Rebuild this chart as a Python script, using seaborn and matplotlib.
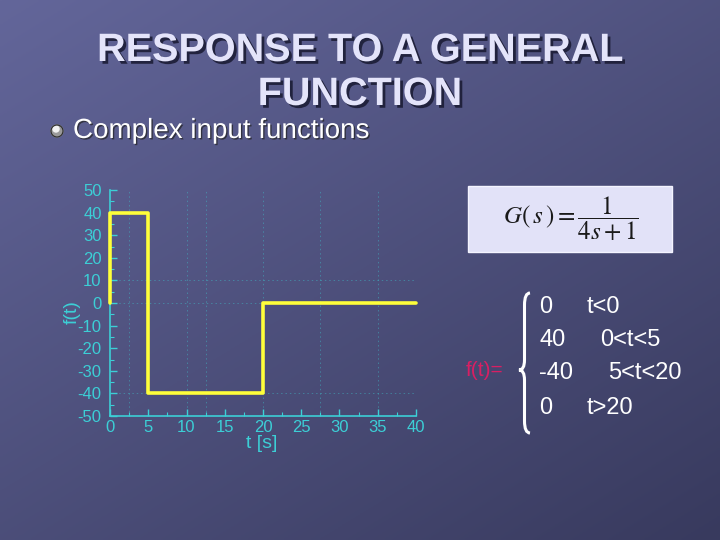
import numpy as np
import pandas as pd
import matplotlib
matplotlib.use("Agg")
import matplotlib.pyplot as plt
import matplotlib.patheffects as pe
from matplotlib.patches import Rectangle, PathPatch, Circle
from matplotlib.path import Path
from matplotlib.ticker import MultipleLocator
import seaborn as sns

# input signal f(t), corner points of the piecewise function
t_points = [0, 0, 5, 5, 20, 20, 40]
f_points = [0, 40, 40, -40, -40, 0, 0]

x_ticks = [0, 5, 10, 15, 20, 25, 30, 35, 40]
y_ticks = [50, 40, 30, 20, 10, 0, -10, -20, -30, -40, -50]

# piecewise definition shown on the right
case_values = ["0", "40", "-40", "0"]
case_ranges = ["t<0", "0<t<5", "5<t<20", "t>20"]

title = "RESPONSE TO A GENERAL\nFUNCTION"
bullet_text = "Complex input functions"

sns.set_style("ticks")
plt.rcParams['font.family'] = ['Liberation Sans', 'DejaVu Sans']
plt.rcParams['mathtext.fontset'] = 'stix'
plt.rcParams['axes.unicode_minus'] = False

CYAN = '#3ccfd6'
YELLOW = '#ffff3a'

fig = plt.figure(figsize=(7.2, 5.4), dpi=100)

# slide background, pixel coordinates
bg = fig.add_axes([0, 0, 1, 1])
bg.set_xlim(0, 720)
bg.set_ylim(540, 0)
bg.axis('off')
yy, xx = np.mgrid[0:1:200j, 0:1:200j]
shade = 0.55 * yy + 0.45 * xx
c_top = np.array([0x63, 0x66, 0x9a]) / 255
c_bot = np.array([0x38, 0x3a, 0x5e]) / 255
img = c_top[None, None, :] * (1 - shade[..., None]) + c_bot[None, None, :] * shade[..., None]
bg.imshow(img, extent=[0, 720, 540, 0], aspect='auto', zorder=0)

shadow = [pe.withSimplePatchShadow(offset=(2, -2), shadow_rgbFace='#1c1d36', alpha=0.9)]
bg.text(360, 72, title, ha='center', va='center', fontsize=28.5, fontweight='bold',
        color='#e4e4fa', linespacing=1.2, path_effects=shadow)

bg.add_patch(Circle((57, 131), 6, color='#9a9a9a', zorder=3))
bg.add_patch(Circle((56, 129), 3, color='#f2f2f2', zorder=4))
bg.add_patch(Circle((57, 131), 6, fill=False, ec='#2a2a2a', lw=0.8, zorder=4))
bg.text(73, 131, bullet_text, ha='left', va='center', fontsize=20, color='white',
        path_effects=[pe.withSimplePatchShadow(offset=(1, -1), shadow_rgbFace='#222', alpha=0.7)])

# transfer function box
bg.add_patch(Rectangle((468, 186), 204, 66, fc='#e2e2f8', ec='#f4f4ff', lw=1, zorder=2))
bg.text(571, 219, r'$G(\,s\,)=\dfrac{1}{4s+1}$', ha='center', va='center',
        fontsize=18, color='#1a1a1a', zorder=3)

# piecewise definition
bg.text(485, 370, "f(t)=", ha='center', va='center', fontsize=15, color='#d81f63')
x0, y0, y1, ym, w = 519, 293, 433, 370, 11
verts = [(x0 + w, y0), (x0 + w / 2, y0), (x0 + w / 2, y0 + 12),
         (x0 + w / 2, ym - 10),
         (x0 + w / 2, ym), (x0, ym),
         (x0 + w / 2, ym), (x0 + w / 2, ym + 10),
         (x0 + w / 2, y1 - 12),
         (x0 + w / 2, y1), (x0 + w, y1)]
codes = [Path.MOVETO, Path.CURVE3, Path.CURVE3, Path.LINETO,
         Path.CURVE3, Path.CURVE3, Path.CURVE3, Path.CURVE3,
         Path.LINETO, Path.CURVE3, Path.CURVE3]
bg.add_patch(PathPatch(Path(verts, codes), fill=False, ec='white', lw=2.2))

row_y = [307, 340, 373, 408]
range_x = [587, 600, 608, 587]
for val, rng, ry, rx in zip(case_values, case_ranges, row_y, range_x):
    bg.text(539, ry, val, ha='left', va='center', fontsize=17, color='white')
    bg.text(rx, ry, rng, ha='left', va='center', fontsize=17, color='white')

# the plot itself
ax = fig.add_axes([110 / 720, 1 - 416 / 540, 306 / 720, 226 / 540])
ax.set_facecolor('none')
df = pd.DataFrame({'t': t_points, 'f': f_points})
sns.lineplot(data=df, x='t', y='f', sort=False, estimator=None, ax=ax,
             color=YELLOW, lw=2.6, zorder=5, clip_on=False)

grid_x = [2.5, 10, 12.5, 20, 27.5, 35]
grid_y = [10, 0, -40]
for gx in grid_x:
    ax.axvline(gx, color=CYAN, lw=0.7, ls=(0, (1.5, 3)), alpha=0.4, zorder=1)
for gy in grid_y:
    ax.axhline(gy, color=CYAN, lw=0.7, ls=(0, (1.5, 3)), alpha=0.4, zorder=1)

ax.set_xlim(0, 40)
ax.set_ylim(-50, 50)
ax.set_xticks(x_ticks)
ax.set_yticks(y_ticks)
ax.xaxis.set_minor_locator(MultipleLocator(2.5))
ax.yaxis.set_minor_locator(MultipleLocator(5))
ax.tick_params(which='major', direction='in', length=5, width=1, colors=CYAN,
               labelsize=12)
ax.tick_params(axis='y', which='major', pad=6)
ax.tick_params(axis='x', which='major', pad=3)
ax.tick_params(which='minor', direction='in', length=3, width=0.8, colors=CYAN)
for side in ['top', 'right']:
    ax.spines[side].set_visible(False)
for side in ['left', 'bottom']:
    ax.spines[side].set_color(CYAN)
    ax.spines[side].set_linewidth(1.2)
ax.set_xlabel("t [s]", color=CYAN, fontsize=14)
ax.set_ylabel("f(t)", color=CYAN, fontsize=14)
ax.xaxis.set_label_coords(0.495, -0.085)
ax.yaxis.set_label_coords(-0.095, 0.46)

fig.savefig("out.png", dpi=100)
